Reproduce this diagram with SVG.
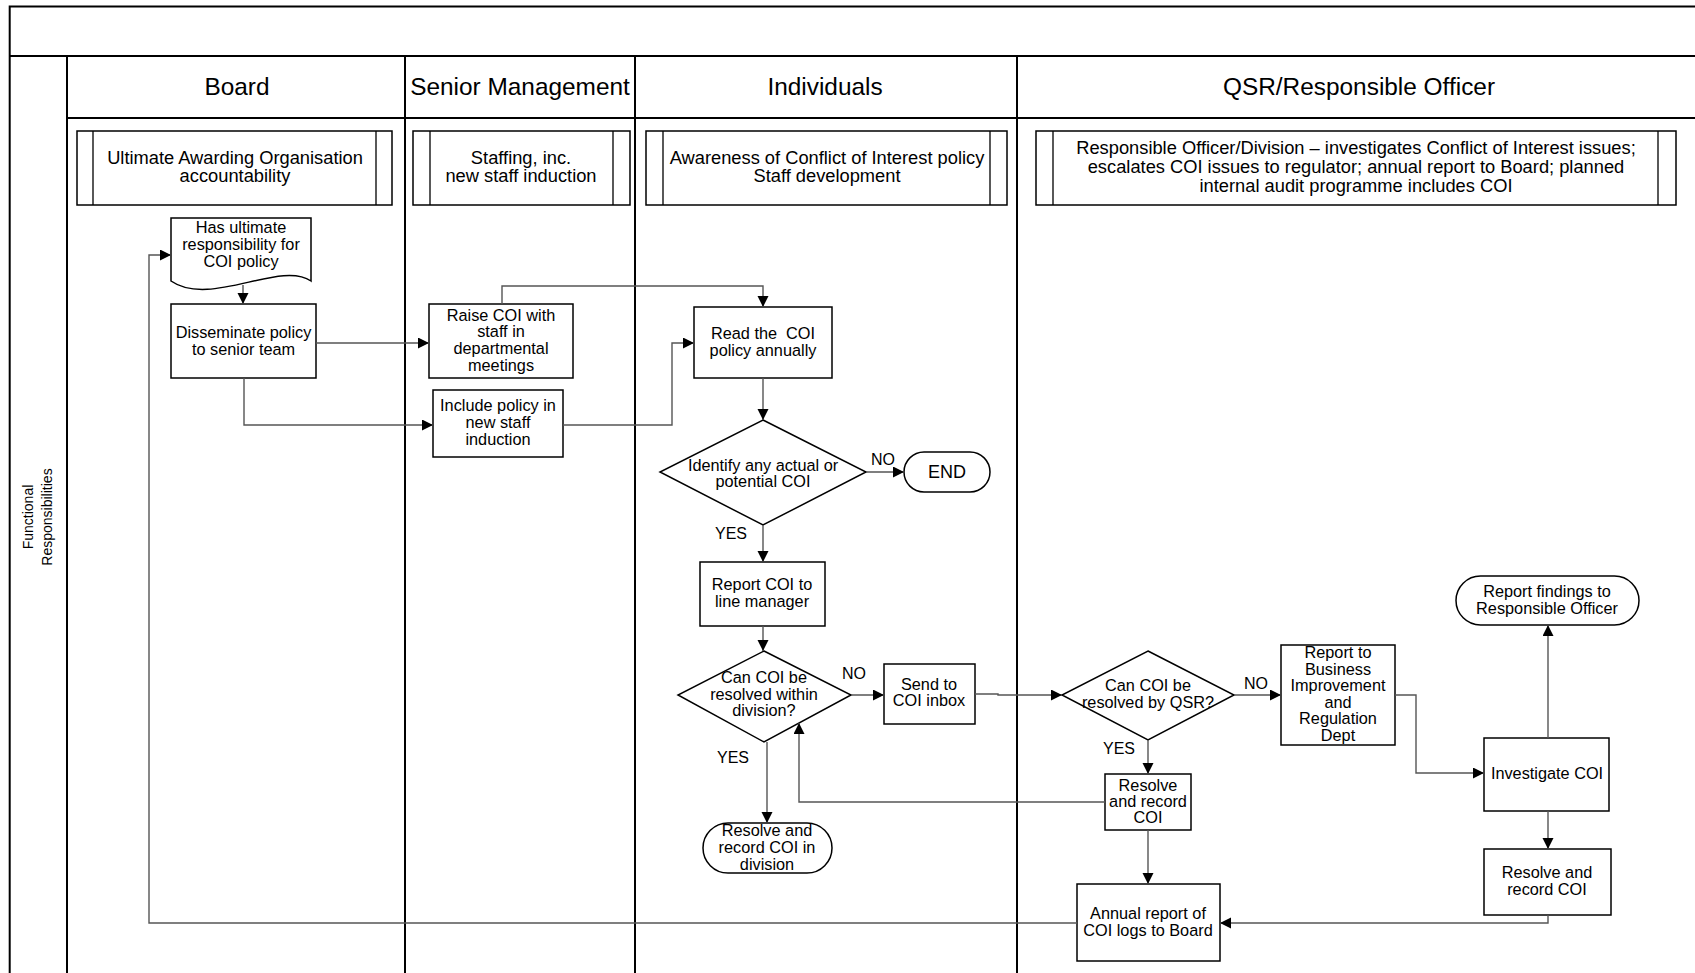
<svg xmlns="http://www.w3.org/2000/svg" width="1695" height="973" viewBox="0 0 1695 973">
<style>
text{font-family:"Liberation Sans",Arial,sans-serif;fill:#000}
.lane{stroke:#000;stroke-width:2;fill:none}
.hdr{font-size:24.4px;text-anchor:middle}
.lbox{font-size:18.3px;text-anchor:middle}
.nt{font-size:16.3px;text-anchor:middle}
.lbl{font-size:16px;text-anchor:middle}
.shape{fill:#fff;stroke:#000;stroke-width:1.5}
.thin{stroke:#000;stroke-width:1.3;fill:none}
.conn path{fill:none;stroke:#555;stroke-width:1.4;marker-end:url(#arr)}
</style>
<defs>
<marker id="arr" markerUnits="userSpaceOnUse" markerWidth="12" markerHeight="12" refX="11" refY="5.5" orient="auto">
<path d="M0,0 L11,5.5 L0,11 z" fill="#000"/>
</marker>
</defs>
<rect width="1695" height="973" fill="#fff"/>
<g id="frame">
<path class="lane" d="M9.7,973 V6.5 H1695 M9.7,56 H1695 M67,118 H1695 M67,56 V973 M405,56 V973 M635,56 V973 M1017,56 V973"/>
<text class="nt" style="font-size:14px" transform="translate(33,517) rotate(-90)">Functional</text>
<text class="nt" style="font-size:14px" transform="translate(52,517) rotate(-90)">Responsibilities</text>
<text class="hdr" x="237" y="95">Board</text>
<text class="hdr" x="520" y="95">Senior Management</text>
<text class="hdr" x="825" y="95">Individuals</text>
<text class="hdr" x="1359" y="95">QSR/Responsible Officer</text>
</g>
<g id="lanebox-board">
<rect class="shape" x="77" y="131" width="315" height="74"/>
<path class="thin" d="M93,131 V205 M376,131 V205"/>
<text class="lbox" x="235" y="164">Ultimate Awarding Organisation</text>
<text class="lbox" x="235" y="182">accountability</text>
</g>
<g id="lanebox-senior">
<rect class="shape" x="413" y="131" width="217" height="74"/>
<path class="thin" d="M430,131 V205 M613,131 V205"/>
<text class="lbox" x="521" y="164">Staffing, inc.</text>
<text class="lbox" x="521" y="182">new staff induction</text>
</g>
<g id="lanebox-individuals">
<rect class="shape" x="646" y="131" width="361" height="74"/>
<path class="thin" d="M663,131 V205 M990,131 V205"/>
<text class="lbox" x="827" y="164">Awareness of Conflict of Interest policy</text>
<text class="lbox" x="827" y="182">Staff development</text>
</g>
<g id="lanebox-qsr">
<rect class="shape" x="1036" y="131" width="640" height="74"/>
<path class="thin" d="M1053,131 V205 M1658,131 V205"/>
<text class="lbox" x="1356" y="154">Responsible Officer/Division – investigates Conflict of Interest issues;</text>
<text class="lbox" x="1356" y="173">escalates COI issues to regulator; annual report to Board; planned</text>
<text class="lbox" x="1356" y="192">internal audit programme includes COI</text>
</g>
<g id="n-ultimate">
<path class="shape" d="M171,218 H311 V281 C280,260 210,308 171,281 Z"/>
<text class="nt" x="241" y="233">Has ultimate</text>
<text class="nt" x="241" y="250">responsibility for</text>
<text class="nt" x="241" y="267">COI policy</text>
</g>
<g id="n-disseminate">
<rect class="shape" x="171" y="304" width="145" height="74"/>
<text class="nt" x="243.5" y="338">Disseminate policy</text>
<text class="nt" x="243.5" y="355">to senior team</text>
</g>
<g id="n-raise">
<rect class="shape" x="429" y="304" width="144" height="74"/>
<text class="nt" x="501" y="321">Raise COI with</text>
<text class="nt" x="501" y="337">staff in</text>
<text class="nt" x="501" y="354">departmental</text>
<text class="nt" x="501" y="371">meetings</text>
</g>
<g id="n-include">
<rect class="shape" x="433" y="390" width="130" height="67"/>
<text class="nt" x="498" y="411">Include policy in</text>
<text class="nt" x="498" y="428">new staff</text>
<text class="nt" x="498" y="445">induction</text>
</g>
<g id="n-read">
<rect class="shape" x="694" y="307" width="138" height="71"/>
<text class="nt" x="763" y="339" xml:space="preserve">Read the  COI</text>
<text class="nt" x="763" y="356">policy annually</text>
</g>
<g id="n-identify">
<polygon class="shape" points="763,420 866,472 763,525 660,472"/>
<text class="nt" x="763" y="471">Identify any actual or</text>
<text class="nt" x="763" y="487">potential COI</text>
</g>
<g id="n-end">
<rect class="shape" x="904" y="452" width="86" height="40" rx="20"/>
<text class="nt" style="font-size:18px" x="947" y="478">END</text>
</g>
<g id="n-report-lm">
<rect class="shape" x="700" y="562" width="125" height="64"/>
<text class="nt" x="762" y="590">Report COI to</text>
<text class="nt" x="762" y="607">line manager</text>
</g>
<g id="n-can-division">
<polygon class="shape" points="764,651 851,695 764,742 678,695"/>
<text class="nt" x="764" y="683">Can COI be</text>
<text class="nt" x="764" y="700">resolved within</text>
<text class="nt" x="764" y="716">division?</text>
</g>
<g id="n-send">
<rect class="shape" x="884" y="664" width="91" height="60"/>
<text class="nt" x="929" y="690">Send to</text>
<text class="nt" x="929" y="706">COI inbox</text>
</g>
<g id="n-resolve-division">
<rect class="shape" x="703" y="823" width="129" height="50" rx="25"/>
<text class="nt" x="767" y="836">Resolve and</text>
<text class="nt" x="767" y="853">record COI in</text>
<text class="nt" x="767" y="870">division</text>
</g>
<g id="n-can-qsr">
<polygon class="shape" points="1148,651 1234,695 1148,740 1062,695"/>
<text class="nt" x="1148" y="691">Can COI be</text>
<text class="nt" x="1148" y="708">resolved by QSR?</text>
</g>
<g id="n-report-bird">
<rect class="shape" x="1281" y="645" width="114" height="100"/>
<text class="nt" x="1338" y="658">Report to</text>
<text class="nt" x="1338" y="674.5">Business</text>
<text class="nt" x="1338" y="691">Improvement</text>
<text class="nt" x="1338" y="707.5">and</text>
<text class="nt" x="1338" y="724">Regulation</text>
<text class="nt" x="1338" y="741">Dept</text>
</g>
<g id="n-resolve-qsr">
<rect class="shape" x="1105" y="774" width="86" height="56"/>
<text class="nt" x="1148" y="791">Resolve</text>
<text class="nt" x="1148" y="807">and record</text>
<text class="nt" x="1148" y="823">COI</text>
</g>
<g id="n-annual">
<rect class="shape" x="1077" y="884" width="143" height="77"/>
<text class="nt" x="1148" y="919">Annual report of</text>
<text class="nt" x="1148" y="936">COI logs to Board</text>
</g>
<g id="n-findings">
<rect class="shape" x="1456" y="576" width="183" height="49" rx="24.5"/>
<text class="nt" x="1547" y="597">Report findings to</text>
<text class="nt" x="1547" y="614">Responsible Officer</text>
</g>
<g id="n-investigate">
<rect class="shape" x="1484" y="738" width="125" height="73"/>
<text class="nt" x="1547" y="779">Investigate COI</text>
</g>
<g id="n-resolve-right">
<rect class="shape" x="1484" y="849" width="127" height="66"/>
<text class="nt" x="1547" y="878">Resolve and</text>
<text class="nt" x="1547" y="895">record COI</text>
</g>
<g id="connectors" class="conn">
<path d="M243,285 V304"/>
<path d="M316,343 H429"/>
<path d="M244,378 V425 H433"/>
<path d="M563,425 H672 V343 H694"/>
<path d="M502,304 V286 H763 V307"/>
<path d="M763,378 V420"/>
<path d="M866,472 H904"/>
<path d="M763,525 V562"/>
<path d="M763,626 V651"/>
<path d="M851,695 H884"/>
<path d="M767,742 V823"/>
<path d="M975,694 H998 V695 H1062"/>
<path d="M1234,695 H1281"/>
<path d="M1148,740 V774"/>
<path d="M1105,802 H799 V723"/>
<path d="M1148,830 V884"/>
<path d="M1395,695 H1416 V773 H1484"/>
<path d="M1548,738 V625"/>
<path d="M1548,811 V849"/>
<path d="M1548,915 V923 H1220"/>
<path d="M1077,923 H149 V255 H171"/>
</g>
<g id="labels">
<text class="lbl" x="883" y="465">NO</text>
<text class="lbl" x="731" y="539">YES</text>
<text class="lbl" x="854" y="679">NO</text>
<text class="lbl" x="733" y="763">YES</text>
<text class="lbl" x="1256" y="689">NO</text>
<text class="lbl" x="1119" y="754">YES</text>
</g>
</svg>
